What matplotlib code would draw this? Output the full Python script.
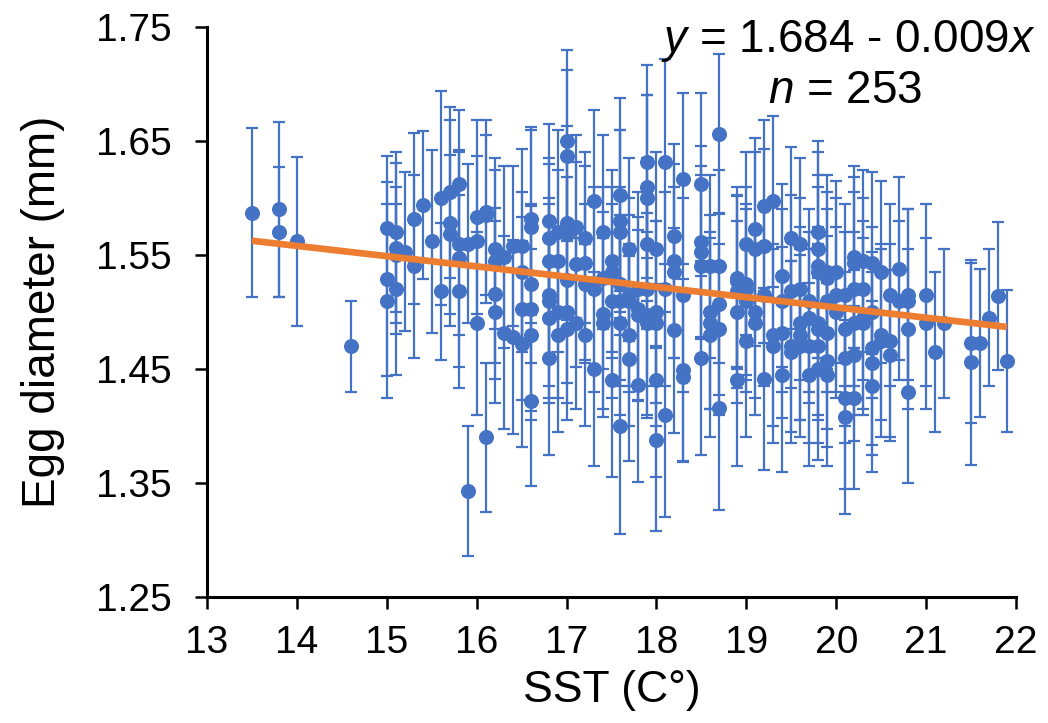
import matplotlib.pyplot as plt
import numpy as np

plt.rcParams['font.family'] = ['Liberation Sans', 'DejaVu Sans']
plt.rcParams['mathtext.fontset'] = 'custom'
plt.rcParams['mathtext.it'] = 'Liberation Sans:italic'
plt.rcParams['mathtext.rm'] = 'Liberation Sans'

# SST (C) for each sample
sst = [13.5, 13.8, 13.8, 14.0, 14.6,
       15.0, 15.0, 15.0, 15.1, 15.1, 15.1, 15.1, 15.2, 15.3, 15.3, 15.4, 15.5,
       15.6, 15.6, 15.7, 15.7, 15.7, 15.8, 15.8, 15.8, 15.8, 15.9, 15.9,
       16.0, 16.0, 16.0, 16.1, 16.1, 16.1, 16.2, 16.2, 16.2, 16.2, 16.3, 16.3,
       16.4, 16.4, 16.5, 16.5, 16.5, 16.5, 16.6, 16.6, 16.6, 16.6, 16.6, 16.6,
       16.8, 16.8, 16.8, 16.8, 16.8, 16.8, 16.8, 16.9, 16.9, 16.9, 16.9,
       17.0, 17.0, 17.0, 17.0, 17.0, 17.0, 17.0, 17.1, 17.1, 17.1,
       17.2, 17.2, 17.2, 17.2, 17.3, 17.3, 17.3, 17.4, 17.4, 17.4, 17.4,
       17.5, 17.5, 17.5, 17.5, 17.6, 17.6, 17.6, 17.6, 17.6, 17.6, 17.6,
       17.7, 17.7, 17.7, 17.7, 17.7, 17.8, 17.8, 17.8, 17.8,
       17.9, 17.9, 17.9, 17.9, 17.9, 17.9, 17.9, 18.0, 18.0, 18.0, 18.0, 18.0,
       18.1, 18.1, 18.1, 18.2, 18.2, 18.2, 18.2, 18.3, 18.3, 18.3, 18.3,
       18.5, 18.5, 18.5, 18.5, 18.5, 18.6, 18.6, 18.6, 18.6,
       18.7, 18.7, 18.7, 18.7, 18.7, 18.9, 18.9, 18.9, 18.9, 18.9,
       19.0, 19.0, 19.0, 19.0, 19.0, 19.1, 19.1, 19.1, 19.1,
       19.2, 19.2, 19.2, 19.2, 19.3, 19.3, 19.3, 19.4, 19.4, 19.4, 19.4,
       19.5, 19.5, 19.5, 19.5, 19.6, 19.6, 19.6, 19.6, 19.6,
       19.7, 19.7, 19.7, 19.7, 19.8, 19.8, 19.8, 19.8, 19.8, 19.8, 19.8, 19.8,
       19.9, 19.9, 19.9, 19.9, 19.9, 19.9, 20.0, 20.0, 20.0,
       20.1, 20.1, 20.1, 20.1, 20.1, 20.2, 20.2, 20.2, 20.2, 20.2, 20.2,
       20.3, 20.3, 20.3, 20.3, 20.4, 20.4, 20.4, 20.4, 20.4,
       20.5, 20.5, 20.5, 20.6, 20.6, 20.6, 20.7, 20.7,
       20.8, 20.8, 20.8, 20.8, 21.0, 21.0, 21.1, 21.2,
       21.5, 21.5, 21.6, 21.7, 21.8, 21.9]

# mean egg diameter (mm)
diam = [1.587, 1.590, 1.570, 1.562, 1.470,
        1.574, 1.529, 1.510, 1.556, 1.570, 1.520, 1.550, 1.553, 1.582, 1.540, 1.594, 1.562,
        1.600, 1.518, 1.605, 1.578, 1.568, 1.612, 1.547, 1.518, 1.560, 1.560, 1.343,
        1.583, 1.562, 1.490, 1.588, 1.390, 1.585, 1.555, 1.545, 1.516, 1.500, 1.548, 1.482,
        1.558, 1.478, 1.558, 1.535, 1.503, 1.472, 1.582, 1.575, 1.525, 1.503, 1.480, 1.422,
        1.580, 1.565, 1.545, 1.515, 1.510, 1.495, 1.460, 1.570, 1.545, 1.500, 1.480,
        1.650, 1.637, 1.578, 1.568, 1.528, 1.500, 1.485, 1.575, 1.542, 1.490,
        1.565, 1.543, 1.480, 1.525, 1.597, 1.520, 1.450, 1.570, 1.530, 1.490, 1.498,
        1.545, 1.535, 1.440, 1.510, 1.603, 1.580, 1.570, 1.510, 1.490, 1.400, 1.525,
        1.555, 1.515, 1.510, 1.459, 1.480, 1.520, 1.503, 1.497, 1.436,
        1.632, 1.610, 1.600, 1.560, 1.520, 1.490, 1.497, 1.555, 1.500, 1.490, 1.440, 1.388,
        1.632, 1.520, 1.410, 1.567, 1.545, 1.535, 1.484, 1.617, 1.515, 1.449, 1.443,
        1.612, 1.561, 1.553, 1.540, 1.460, 1.540, 1.500, 1.490, 1.480,
        1.656, 1.540, 1.507, 1.485, 1.416, 1.530, 1.527, 1.518, 1.500, 1.440,
        1.560, 1.525, 1.520, 1.510, 1.475, 1.573, 1.555, 1.500, 1.490,
        1.593, 1.558, 1.515, 1.441, 1.597, 1.480, 1.470, 1.532, 1.482, 1.445, 1.510,
        1.565, 1.518, 1.470, 1.465, 1.560, 1.520, 1.490, 1.480, 1.470,
        1.510, 1.495, 1.470, 1.445, 1.570, 1.555, 1.535, 1.540, 1.490, 1.485, 1.450, 1.470,
        1.530, 1.510, 1.482, 1.457, 1.445, 1.535, 1.535, 1.515, 1.500,
        1.515, 1.485, 1.460, 1.425, 1.408, 1.548, 1.543, 1.520, 1.490, 1.462, 1.425,
        1.545, 1.495, 1.490, 1.520, 1.543, 1.500, 1.468, 1.455, 1.435,
        1.535, 1.480, 1.475, 1.515, 1.462, 1.475, 1.538, 1.510,
        1.515, 1.510, 1.485, 1.430, 1.515, 1.490, 1.465, 1.490,
        1.473, 1.456, 1.473, 1.495, 1.514, 1.457]

# standard deviation (error bars)
sd = [0.074, 0.077, 0.057, 0.074, 0.040,
      0.063, 0.085, 0.085, 0.075, 0.070, 0.075, 0.060, 0.070, 0.075, 0.080, 0.065, 0.080,
      0.094, 0.060, 0.075, 0.090, 0.070, 0.065, 0.095, 0.085, 0.080, 0.070, 0.057,
      0.085, 0.075, 0.080, 0.080, 0.065, 0.070, 0.070, 0.090, 0.075, 0.080, 0.080, 0.085,
      0.070, 0.085, 0.085, 0.070, 0.080, 0.090, 0.080, 0.085, 0.070, 0.090, 0.075, 0.075,
      0.085, 0.070, 0.085, 0.080, 0.090, 0.070, 0.085, 0.090, 0.080, 0.075, 0.085,
      0.080, 0.075, 0.085, 0.070, 0.090, 0.080, 0.080, 0.080, 0.090, 0.075,
      0.075, 0.085, 0.080, 0.070, 0.080, 0.090, 0.085, 0.085, 0.080, 0.075, 0.090,
      0.080, 0.075, 0.085, 0.085, 0.085, 0.080, 0.090, 0.075, 0.080, 0.095, 0.085,
      0.080, 0.085, 0.075, 0.090, 0.080, 0.085, 0.080, 0.075, 0.085,
      0.085, 0.080, 0.090, 0.075, 0.085, 0.080, 0.090, 0.085, 0.080, 0.090, 0.085, 0.080,
      0.090, 0.085, 0.090, 0.080, 0.085, 0.075, 0.090, 0.075, 0.085, 0.080, 0.075,
      0.080, 0.085, 0.075, 0.080, 0.085, 0.080, 0.085, 0.075, 0.090,
      0.070, 0.085, 0.080, 0.075, 0.090, 0.080, 0.075, 0.085, 0.080, 0.075,
      0.080, 0.085, 0.075, 0.080, 0.085, 0.080, 0.085, 0.075, 0.080,
      0.075, 0.085, 0.080, 0.080, 0.075, 0.080, 0.085, 0.080, 0.075, 0.085, 0.080,
      0.080, 0.085, 0.075, 0.080, 0.075, 0.080, 0.085, 0.075, 0.080,
      0.080, 0.075, 0.085, 0.080, 0.080, 0.085, 0.075, 0.080, 0.085, 0.075, 0.080, 0.085,
      0.075, 0.080, 0.085, 0.075, 0.080, 0.085, 0.080, 0.085, 0.075,
      0.080, 0.085, 0.075, 0.080, 0.085, 0.080, 0.075, 0.085, 0.080, 0.075, 0.080,
      0.080, 0.085, 0.075, 0.080, 0.080, 0.075, 0.085, 0.080, 0.075,
      0.080, 0.075, 0.085, 0.080, 0.075, 0.085, 0.080, 0.070,
      0.075, 0.080, 0.070, 0.080, 0.080, 0.075, 0.070, 0.065,
      0.070, 0.090, 0.065, 0.060, 0.065, 0.062]

# linear fit reported on the chart
intercept = 1.684
slope = -0.009
n_samples = 253

blue = '#4472C4'
orange = '#ED7D31'

fig = plt.figure(figsize=(10.48, 7.23), dpi=100)
ax = fig.add_axes([207 / 1048, 1 - 597 / 723, (1016 - 207) / 1048, (597 - 27) / 723])

ax.errorbar(sst, diam, yerr=sd, fmt='o', color=blue, ecolor=blue,
            ms=9.8, elinewidth=1.6, capsize=4.5, capthick=1.6, zorder=2)

# trend line across the range of the data
xfit = np.array([min(sst), max(sst)])
ax.plot(xfit, intercept + slope * xfit, color=orange, lw=4.8, zorder=3,
        solid_capstyle='butt')

ax.set_xlim(13, 22)
ax.set_ylim(1.25, 1.75)
ax.set_xticks(range(13, 23))
ax.set_yticks([1.25, 1.35, 1.45, 1.55, 1.65, 1.75])
ax.set_yticklabels(['1.25', '1.35', '1.45', '1.55', '1.65', '1.75'])

for side in ['top', 'right']:
    ax.spines[side].set_visible(False)
for side in ['left', 'bottom']:
    ax.spines[side].set_linewidth(2.2)
ax.tick_params(axis='both', labelsize=28, width=1.8, length=8.5, direction='out')
ax.tick_params(axis='x', pad=12)
ax.tick_params(axis='y', pad=17)

ax.set_xlabel('SST (C°)', fontsize=32, labelpad=6)
ax.set_ylabel('Egg diameter (mm)', fontsize=33, labelpad=22)

fig.text(1035 / 1048, 1 - 52 / 723, r'$y$ = 1.684 - 0.009$x$',
         fontsize=33, ha='right', va='baseline')
fig.text(845 / 1048, 1 - 103 / 723, r'$n$ = ' + str(n_samples),
         fontsize=33, ha='center', va='baseline')

fig.savefig('out.png', dpi=100)
